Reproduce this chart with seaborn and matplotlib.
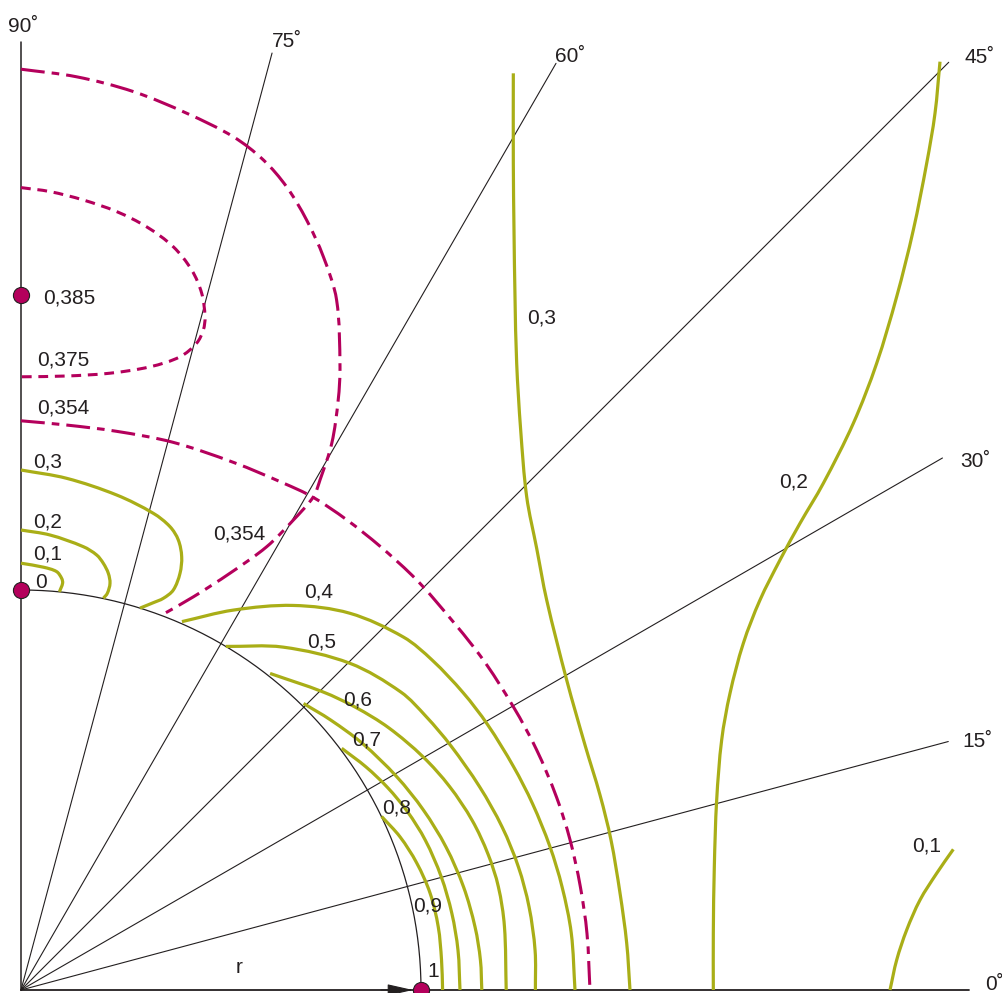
import numpy as np
import matplotlib
matplotlib.use("Agg")
import matplotlib.pyplot as plt
from matplotlib.path import Path
from matplotlib.patches import PathPatch
import seaborn as sns

sns.set_theme(style="white")
plt.rcParams['font.family'] = ['Liberation Sans', 'DejaVu Sans']

OLIVE = '#A9AE17'
MAGENTA = '#B4005C'
INK = '#231F20'

# ---------------- data (units of the radius r) ----------------
ray_angles = [15, 30, 45, 60, 75]
ray_lengths = [2.40, 2.66, 3.28, 2.675, 2.425]
axis_length = 2.37

# solid contours near the y axis (closed onto the unit circle), cartesian readings
c01_x = [0, 0.056, 0.089, 0.1017, 0.104, 0.096]
c01_y = [1.067, 1.057, 1.046, 1.029, 1.017, 0.9954]
c02_x = [0, 0.0725, 0.1558, 0.1892, 0.2058, 0.2183, 0.2225, 0.2158, 0.2058]
c02_y = [1.15, 1.1375, 1.1083, 1.0875, 1.0667, 1.0417, 1.0167, 0.9917, 0.9792]
c03_x = [0, 0.1142, 0.2392, 0.3308, 0.3725, 0.3933, 0.4017, 0.3975, 0.3808, 0.3558, 0.3308, 0.2975]
c03_y = [1.3, 1.2792, 1.2375, 1.1917, 1.1583, 1.125, 1.0833, 1.0417, 1.0, 0.9792, 0.9683, 0.9547]

# contours between the unit circle and the x axis, read along angles (deg) as radius
c04_t = [66.4, 60.8, 54.7, 48.9, 42.7, 38.7, 33.9, 29.6, 24.4, 20, 15.2, 10.8, 5.9, 0]
c04_r = [1.005, 1.088, 1.178, 1.25, 1.301, 1.318, 1.332, 1.342, 1.352, 1.361, 1.37, 1.377, 1.383, 1.385]
c05_t = [59.2, 52.6, 44.8, 38.1, 34.0, 29.6, 23.9, 18.7, 13.9, 9.3, 4.4, 0]
c05_r = [1.0, 1.079, 1.159, 1.207, 1.222, 1.236, 1.254, 1.27, 1.281, 1.287, 1.289, 1.286]
c06_t = [51.8, 44.6, 40.2, 35.5, 30.1, 25.4, 20.6, 16.2, 12.2, 7.5, 0]
c06_r = [1.007, 1.061, 1.095, 1.129, 1.162, 1.186, 1.205, 1.216, 1.221, 1.219, 1.213]
c07_t = [45.4, 41.1, 35.8, 29.6, 24.1, 18.6, 13.1, 7.9, 3.7, 0]
c07_r = [1.006, 1.027, 1.053, 1.08, 1.102, 1.121, 1.136, 1.146, 1.151, 1.152]
c08_t = [37, 32.9, 28.9, 24.8, 20.3, 15.1, 10.1, 5.2, 0]
c08_r = [1.004, 1.027, 1.047, 1.064, 1.078, 1.088, 1.094, 1.097, 1.0975]
c09_t = [25.7, 22, 17.8, 13.3, 8.6, 4.1, 0]
c09_r = [1.0005, 1.022, 1.039, 1.051, 1.055, 1.054, 1.054]

# far-field solid contours, cartesian readings
f03_x = [1.2308, 1.2308, 1.2325, 1.235, 1.2392, 1.2492, 1.2642, 1.2892, 1.3142, 1.3642, 1.41, 1.4475, 1.475, 1.4975, 1.5142, 1.5225]
f03_y = [2.2917, 2.0667, 1.9, 1.7333, 1.5667, 1.4, 1.2333, 1.1042, 0.975, 0.775, 0.6125, 0.4875, 0.375, 0.2425, 0.1175, 0]
f02_x = [2.2975, 2.285, 2.2642, 2.2308, 2.1892, 2.1392, 2.0808, 2.0058, 1.9475, 1.8975, 1.8475, 1.8058, 1.7725, 1.7517, 1.7392, 1.7333, 1.7308, 1.7308]
f02_y = [2.3208, 2.1917, 2.0667, 1.9, 1.7333, 1.5667, 1.4167, 1.2667, 1.1667, 1.075, 0.975, 0.8667, 0.7417, 0.625, 0.475, 0.3083, 0.1417, 0]
f01_x = [2.3308, 2.2892, 2.2475, 2.2142, 2.1892, 2.1725]
f01_y = [0.3517, 0.2917, 0.225, 0.15, 0.075, 0]

# 0,354 separatrix: near-circle (read along angle) and outer loop
m354_t = [90, 85.4, 80.3, 74.5, 68, 62.6, 59.4, 55.3, 51, 46.7, 43.6, 36, 29.9, 25, 19.8, 15.3, 10.5, 5.7, 0]
m354_r = [1.423, 1.417, 1.417, 1.421, 1.422, 1.427, 1.432, 1.43, 1.427, 1.425, 1.422, 1.42, 1.42, 1.422, 1.423, 1.423, 1.422, 1.422, 1.4225]
m354b_x = [0, 0.139, 0.281, 0.414, 0.531, 0.606, 0.664, 0.714, 0.756, 0.789, 0.7975, 0.793, 0.777, 0.7475, 0.731, 0.681, 0.614, 0.5225, 0.431, 0.352]
m354b_y = [2.302, 2.283, 2.246, 2.192, 2.133, 2.075, 2.008, 1.925, 1.833, 1.725, 1.558, 1.475, 1.367, 1.275, 1.233, 1.175, 1.108, 1.042, 0.983, 0.9375]
# 0,375 closed loop
m375_x = [0, 0.0725, 0.1558, 0.2392, 0.314, 0.3808, 0.4267, 0.4517, 0.46, 0.4558, 0.439, 0.3975, 0.3225, 0.2225, 0.1142, 0]
m375_y = [2.006, 1.996, 1.975, 1.946, 1.908, 1.858, 1.8, 1.742, 1.683, 1.65, 1.617, 1.583, 1.558, 1.542, 1.535, 1.533]

point_x = [0, 0, 1]
point_y = [1.7375, 1.0, 0]

angle_labels = ['90˚', '75˚', '60˚', '45˚', '30˚', '15˚', '0˚']
angle_label_xy = [(-0.0325, 2.395), (0.6275, 2.3575), (1.335, 2.32), (2.36, 2.3175),
                  (2.3475, 1.3075), (2.3525, 0.6075), (2.41, 0.0)]
value_labels = ['0,385', '0,375', '0,354', '0,3', '0,2', '0,1', '0', '0,354',
                '0,4', '0,5', '0,6', '0,7', '0,8', '0,9', '1', 'r', '0,3', '0,2', '0,1']
value_label_xy = [(0.055, 1.7175), (0.04, 1.5625), (0.04, 1.4425), (0.03, 1.3075),
                  (0.03, 1.1575), (0.03, 1.075), (0.035, 1.005), (0.48, 1.1275),
                  (0.7075, 0.98), (0.715, 0.8575), (0.805, 0.71), (0.8275, 0.61),
                  (0.9025, 0.4425), (0.98, 0.195), (1.015, 0.0325), (0.5375, 0.0425),
                  (1.265, 1.6675), (1.895, 1.2575), (2.2275, 0.345)]


def polar_xy(t_deg, r):
    t = np.deg2rad(np.asarray(t_deg, float))
    r = np.asarray(r, float)
    return r * np.cos(t), r * np.sin(t)


def smooth_path(xs, ys):
    """Cubic Bezier path passing through the read points (chord-length tangents)."""
    P = np.column_stack([xs, ys]).astype(float)
    n = len(P)
    d = np.hypot(*np.diff(P, axis=0).T)
    m = np.zeros_like(P)
    m[0] = (P[1] - P[0]) / d[0]
    m[-1] = (P[-1] - P[-2]) / d[-1]
    for i in range(1, n - 1):
        m[i] = (P[i + 1] - P[i - 1]) / (d[i - 1] + d[i])
    verts = [P[0]]
    codes = [Path.MOVETO]
    for i in range(n - 1):
        verts += [P[i] + m[i] * d[i] / 3, P[i + 1] - m[i + 1] * d[i] / 3, P[i + 1]]
        codes += [Path.CURVE4] * 3
    return Path(np.array(verts), codes)


def draw_curve(ax, xs, ys, color, lw, ls='solid'):
    patch = PathPatch(smooth_path(xs, ys), fill=False, edgecolor=color, lw=lw,
                      linestyle=ls, capstyle='butt', joinstyle='round', zorder=3)
    ax.add_patch(patch)


# ---------------- figure ----------------
fig = plt.figure(figsize=(10.02, 9.93), dpi=100)
ax = fig.add_axes([0, 0, 1, 1])
ax.set_xlim(-21 / 400, 981 / 400)
ax.set_ylim(-3 / 400, 990 / 400)
ax.set_axis_off()

# axes and rays
sns.lineplot(x=[0, axis_length], y=[0, 0], ax=ax, color=INK, lw=1.3, zorder=2,
             estimator=None, sort=False)
sns.lineplot(x=[0, 0], y=[0, axis_length], ax=ax, color=INK, lw=1.1, zorder=2,
             estimator=None, sort=False)
for a, L in zip(ray_angles, ray_lengths):
    rx, ry = polar_xy([0, a], [0, L])
    sns.lineplot(x=rx, y=ry, ax=ax, color=INK, lw=0.8, zorder=2,
                 estimator=None, sort=False)
tt = np.deg2rad(np.linspace(0, 90, 181))
ax.plot(np.cos(tt), np.sin(tt), color=INK, lw=0.9, zorder=2)

# olive solid contours
for xs, ys in [(c01_x, c01_y), (c02_x, c02_y), (c03_x, c03_y),
               (f03_x, f03_y), (f02_x, f02_y), (f01_x, f01_y)]:
    draw_curve(ax, xs, ys, OLIVE, 2.3)
for t, rr in [(c04_t, c04_r), (c05_t, c05_r), (c06_t, c06_r),
              (c07_t, c07_r), (c08_t, c08_r), (c09_t, c09_r)]:
    draw_curve(ax, *polar_xy(t, rr), OLIVE, 2.3)

# magenta contours
dashdot = (0, (7.8, 2.3, 2.5, 2.3))
draw_curve(ax, *polar_xy(m354_t, m354_r), MAGENTA, 2.2, dashdot)
draw_curve(ax, m354b_x, m354b_y, MAGENTA, 2.2, dashdot)
draw_curve(ax, m375_x, m375_y, MAGENTA, 2.2, (0, (3.2, 2.2)))

# arrow along r
ax.annotate('', xy=(0.98, 0), xytext=(0.9, 0),
            arrowprops=dict(arrowstyle='-|>,head_length=1.6,head_width=0.36',
                            color=INK, lw=0.8, shrinkA=0, shrinkB=0,
                            mutation_scale=10), zorder=4)

# points
sns.scatterplot(x=point_x, y=point_y, ax=ax, s=135, color=MAGENTA,
                edgecolor=INK, linewidth=0.8, zorder=5, clip_on=False)

for txt, (x, y) in zip(angle_labels, angle_label_xy):
    ax.text(x, y, txt, fontsize=15, color=INK, ha='left', va='baseline', zorder=6)
for txt, (x, y) in zip(value_labels, value_label_xy):
    ax.text(x, y, txt, fontsize=15, color=INK, ha='left', va='baseline', zorder=6)

if ax.get_legend() is not None:
    ax.get_legend().remove()

fig.savefig('out.png', dpi=100, facecolor='white')
